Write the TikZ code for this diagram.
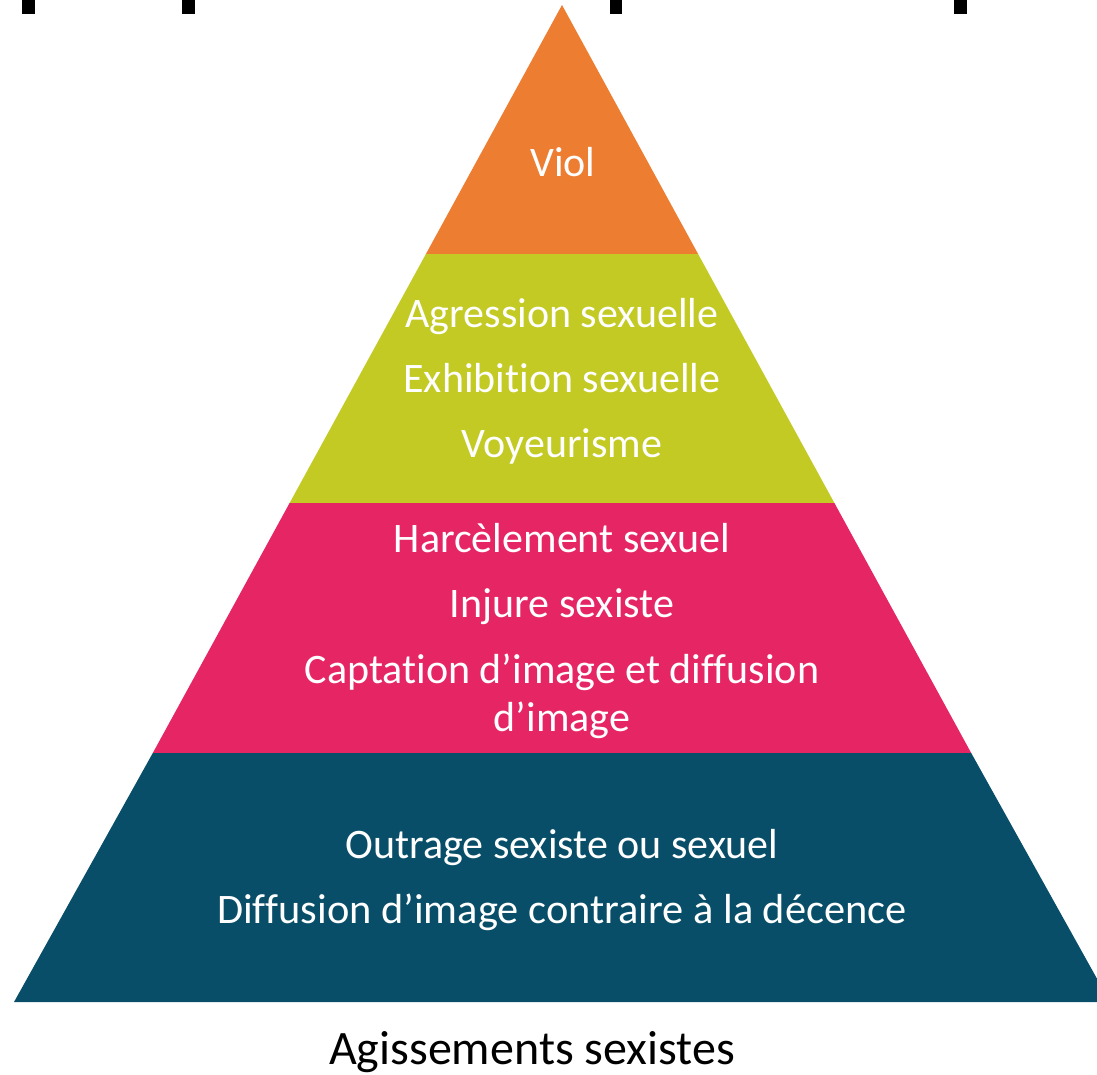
\documentclass[tikz,border=0pt]{standalone}
\usepackage{fontspec}
\setmainfont{Carlito}[RawFeature=-liga]
\usepackage{tikz}
\definecolor{violcol}{HTML}{ED7D31}
\definecolor{agrcol}{HTML}{C3CA23}
\definecolor{harcol}{HTML}{E62565}
\definecolor{outcol}{HTML}{094E68}

\begin{document}
\begin{tikzpicture}[x=1pt, y=-1pt,
  lbl/.style={text=white, inner sep=0pt, anchor=base, align=center, font=\fontsize{42}{48}\selectfont},
  tick/.style={fill=black}]
  \useasboundingbox (0,0) rectangle (1097,1074);
  \clip (0,0) rectangle (1097,1074);
  % layers of the pyramid
  \coordinate (apex) at (562,5);
  \fill[violcol] (apex) -- (698.1,254) -- (425.9,254) -- cycle;
  \fill[agrcol] (425.9,254) -- (698.1,254) -- (834.4,503) -- (289.6,503) -- cycle;
  \fill[harcol] (289.6,503) -- (834.4,503) -- (971.2,753) -- (152.8,753) -- cycle;
  \fill[outcol] (152.8,753) -- (971.2,753) -- (1110,1002) -- (14,1002) -- cycle;
  % marks at the top
  \foreach \x/\w in {22/13,182/13,610/12,954/13}
    \fill[tick] (\x,0) rectangle ++(\w,14);
  % texts
  \node[lbl] (viol) at (563,176) {Viol};
  \node[lbl] (agr) at (562,327) {Agression sexuelle};
  \node[lbl] (exh) at (562,392) {Exhibition sexuelle};
  \node[lbl] (voy) at (562,457) {Voyeurisme};
  \node[lbl] (har) at (562,552) {Harcèlement sexuel};
  \node[lbl] (inj) at (562,617) {Injure sexiste};
  \node[lbl] (cap) at (562,731) {Captation d’image et diffusion\\d’image};
  \node[lbl] (out) at (562,858) {Outrage sexiste ou sexuel};
  \node[lbl, xscale=1.01] (dif) at (562,923) {Diffusion d’image contraire à la décence};
  \node[anchor=base, inner sep=0pt, font=\fontsize{48}{56}\selectfont] (title) at (532,1064) {Agissements sexistes};
\end{tikzpicture}
\end{document}
